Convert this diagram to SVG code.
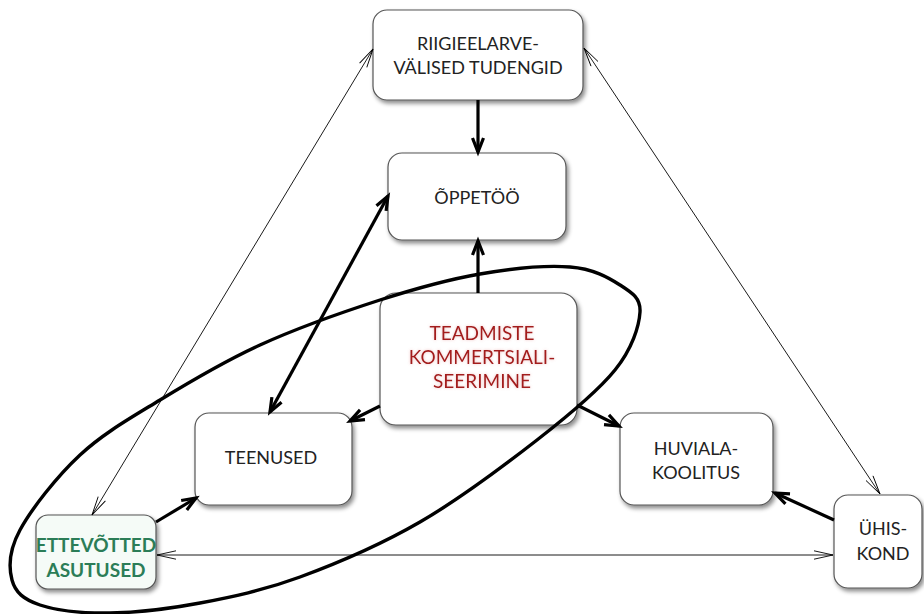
<svg xmlns="http://www.w3.org/2000/svg" width="924" height="614" viewBox="0 0 924 614">
  <style>
    .box { fill: #ffffff; stroke: #555555; stroke-width: 1.2; filter: url(#shadow); }
    .lbl { font-family: Lato, "Open Sans", "Liberation Sans", sans-serif; font-size: 18px; fill: #222222; text-anchor: middle; }
    .red { fill: #a31b1b; font-size: 19px; filter: url(#glow); }
    .green { fill: #2b7d57; font-weight: bold; font-size: 19px; }
    .thick { stroke: #000000; stroke-width: 3.2; fill: none; }
    .thin { stroke: #000000; stroke-width: 0.9; fill: none; }
    .loop { stroke: #000000; stroke-width: 3.4; fill: none; }
  </style>
  <defs>
    <filter id="shadow" x="-10%" y="-10%" width="125%" height="130%">
      <feDropShadow dx="2" dy="3" stdDeviation="2" flood-color="#000000" flood-opacity="0.45"/>
    </filter>
    <filter id="glow" x="-10%" y="-30%" width="120%" height="160%">
      <feGaussianBlur in="SourceAlpha" stdDeviation="1.5" result="b"/>
      <feFlood flood-color="#e08080" flood-opacity="0.5"/>
      <feComposite in2="b" operator="in" result="g"/>
      <feMerge><feMergeNode in="g"/><feMergeNode in="SourceGraphic"/></feMerge>
    </filter>
    <marker id="ah" viewBox="0 0 18 14" refX="16" refY="7" markerWidth="18" markerHeight="14" markerUnits="userSpaceOnUse" orient="auto-start-reverse" overflow="visible">
      <path d="M2,1.5 L16,7 L2,12.5" fill="none" stroke="#000000" stroke-width="3.2"/>
    </marker>
    <marker id="th" viewBox="0 0 20 10" refX="19" refY="5" markerWidth="20" markerHeight="10" markerUnits="userSpaceOnUse" orient="auto-start-reverse" overflow="visible">
      <path d="M0,0.8 L19,5 L0,9.2" fill="none" stroke="#000000" stroke-width="0.9"/>
    </marker>
  </defs>
  <rect width="924" height="614" fill="#ffffff"/>

  <g id="nodes">
    <g id="riigieelarve">
      <rect class="box" x="373" y="10" width="210" height="90" rx="14"/>
      <text class="lbl" x="478" y="50">RIIGIEELARVE-</text>
      <text class="lbl" x="478" y="74">VÄLISED TUDENGID</text>
    </g>
    <g id="oppetoo">
      <rect class="box" x="388" y="153" width="178" height="87" rx="14"/>
      <text class="lbl" x="477" y="204">ÕPPETÖÖ</text>
    </g>
    <g id="teadmiste">
      <rect class="box" x="380" y="293" width="197" height="132" rx="16"/>
      <text class="lbl red" x="482" y="340">TEADMISTE</text>
      <text class="lbl red" x="482" y="364">KOMMERTSIALI-</text>
      <text class="lbl red" x="482" y="388">SEERIMINE</text>
    </g>
    <g id="teenused">
      <rect class="box" x="195" y="413" width="157" height="92" rx="14"/>
      <text class="lbl" x="271" y="464">TEENUSED</text>
    </g>
    <g id="huviala">
      <rect class="box" x="620" y="413" width="153" height="92" rx="14"/>
      <text class="lbl" x="696" y="455">HUVIALA-</text>
      <text class="lbl" x="696" y="479">KOOLITUS</text>
    </g>
    <g id="ettevotted">
      <rect class="box" x="36" y="515" width="120" height="74" rx="12" style="fill:#f5fbf7"/>
      <text class="lbl green" x="96" y="552">ETTEVÕTTED</text>
      <text class="lbl green" x="96" y="577">ASUTUSED</text>
    </g>
    <g id="uhiskond">
      <rect class="box" x="834" y="495" width="88" height="93" rx="14"/>
      <text class="lbl" x="883" y="535">ÜHIS-</text>
      <text class="lbl" x="883" y="560">KOND</text>
    </g>
  </g>

  <g id="connectors">
    <path class="thick" d="M478,100 L478,152" marker-end="url(#ah)"/>
    <path class="thick" d="M478,293 L478,241" marker-end="url(#ah)"/>
    <path class="thick" d="M270,412 L388,196" marker-start="url(#ah)" marker-end="url(#ah)"/>
    <path class="thick" d="M380,406 L350,421" marker-end="url(#ah)"/>
    <path class="thick" d="M577,405 L619,426" marker-end="url(#ah)"/>
    <path class="thick" d="M834,520 L775,493" marker-end="url(#ah)"/>
    <path class="thick" d="M156,522 L196,498" marker-end="url(#ah)"/>
    <path class="thin" d="M157,555 L833,555" marker-start="url(#th)" marker-end="url(#th)"/>
    <path class="thin" d="M373,49 L92,515" marker-start="url(#th)" marker-end="url(#th)"/>
    <path class="thin" d="M584,48 L880,494" marker-start="url(#th)" marker-end="url(#th)"/>
  </g>

  <g id="loop">
    <path class="loop" d="M640,312 C639.17,326.17 632.17,348.67 615,370 C597.83,391.33 569.5,414.67 537,440 C504.5,465.33 459.5,499.17 420,522 C380.5,544.83 336.67,563.5 300,577 C263.33,590.5 231.67,597 200,603 C168.33,609 136.67,612.67 110,613 C83.33,613.33 56.33,610.5 40,605 C23.67,599.5 15.33,592.5 12,580 C8.67,567.5 8.67,550.83 20,530 C31.33,509.17 56.67,476.67 80,455 C103.33,433.33 130,418.33 160,400 C190,381.67 223.33,361.67 260,345 C296.67,328.33 343.33,311.83 380,300 C416.67,288.17 448.33,279.5 480,274 C511.67,268.5 546.67,265.17 570,267 C593.33,268.83 608.33,277.5 620,285 C631.67,292.5 640.83,297.83 640,312 Z"/>
  </g>
</svg>
